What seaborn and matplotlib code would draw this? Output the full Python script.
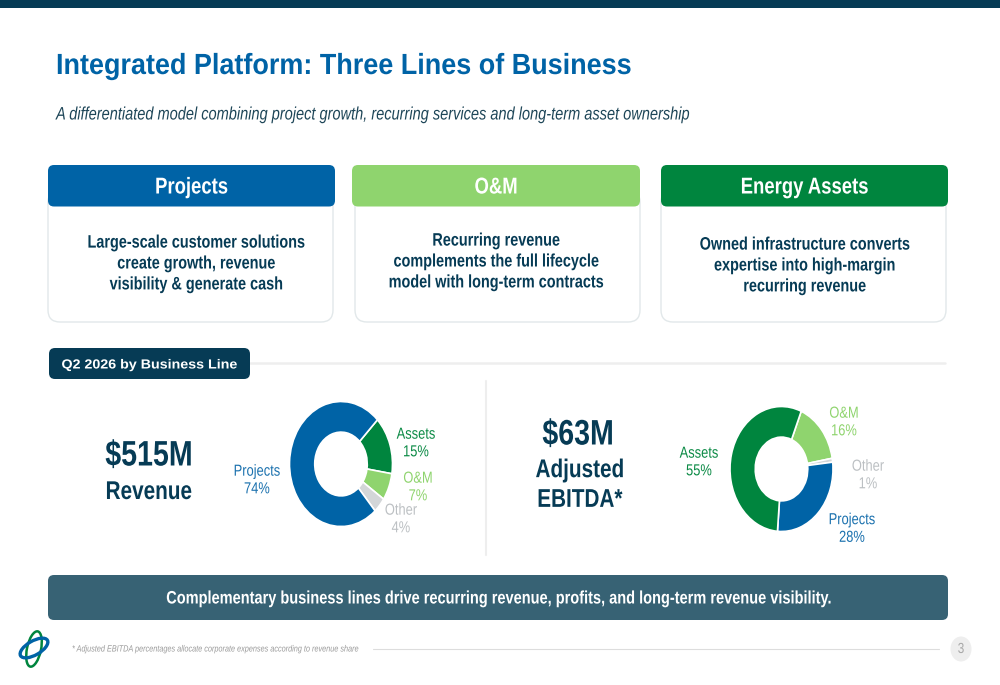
import matplotlib
matplotlib.use("Agg")
import matplotlib.pyplot as plt
import matplotlib.patheffects as pe
from matplotlib.patches import FancyBboxPatch, Rectangle, Ellipse
from matplotlib.transforms import Affine2D
import seaborn as sns

sns.set_theme(style="white")
REG = ["Liberation Sans", "DejaVu Sans"]
plt.rcParams["font.family"] = REG

# ---- data ----
segments = ["Projects", "Assets", "O&M", "Other"]
revenue_share = [74, 15, 7, 4]
ebitda_share = [28, 55, 16, 1]
title = "Integrated Platform: Three Lines of Business"
subtitle = "A differentiated model combining project growth, recurring services and long-term asset ownership"
card_titles = ["Projects", "O&M", "Energy Assets"]
card_texts = [
    "Large-scale customer solutions\ncreate growth, revenue\nvisibility & generate cash",
    "Recurring revenue\ncomplements the full lifecycle\nmodel with long-term contracts",
    "Owned infrastructure converts\nexpertise into high-margin\nrecurring revenue",
]
banner = "Complementary business lines drive recurring revenue, profits, and long-term revenue visibility."
footnote = "* Adjusted EBITDA percentages allocate corporate expenses according to revenue share"

# ---- styles ----
BLUE, GREEN, LIME, GREY = "#0063A6", "#00853E", "#8FD46E", "#D3D6D8"
palette = dict(zip(segments, sns.color_palette([BLUE, GREEN, LIME, GREY])))
label_colors = {"Projects": "#1B71AE", "Assets": "#0B8A45", "O&M": "#8FD46E", "Other": "#BCC0C3"}
NAVY = "#063B55"
SQ = 0.807

fig = plt.figure(figsize=(10, 6.85), dpi=100, facecolor="white")
bg = fig.add_axes([0, 0, 1, 1])
bg.set_xlim(0, 1000)
bg.set_ylim(685, 0)
bg.axis("off")


class SqueezeX(pe.AbstractPathEffect):
    """Narrows a text horizontally about its anchor (the reference type is condensed)."""

    def __init__(self, sx, anchor):
        super().__init__()
        self.sx, self.anchor = sx, anchor

    def draw_path(self, renderer, gc, tpath, affine, rgbFace=None):
        t = affine + Affine2D().translate(-self.anchor, 0).scale(self.sx, 1).translate(self.anchor, 0)
        renderer.draw_path(gc, tpath, t, rgbFace)


def txt(x, y, s, size, color, weight="normal", ha="center", style="normal", sx=SQ, ls=1.2):
    t = bg.text(x, y, s, fontsize=size, color=color, fontweight=weight, ha=ha, va="center",
                fontstyle=style, family=REG, linespacing=ls, zorder=5)
    t.set_path_effects([SqueezeX(sx, x)])


def rbox(x0, y0, x1, y1, r, fc, ec="none", lw=0, z=2):
    bg.add_patch(FancyBboxPatch((x0 + r, y0 + r), x1 - x0 - 2 * r, y1 - y0 - 2 * r,
                                boxstyle=f"round,pad={r},rounding_size={r}",
                                fc=fc, ec=ec, lw=lw, zorder=z))


bg.add_patch(Rectangle((0, 0), 1000, 8, fc=NAVY, ec="none"))
txt(56, 66, title, 21, "#0063A6", "bold", "left", sx=0.925)
txt(56, 115, subtitle, 13, "#1E4658", "normal", "left", "italic")

bodies = [(48, 333), (355, 640), (661, 946)]
heads = [(48, 335), (352, 640), (661, 948)]
head_colors = [BLUE, LIME, GREEN]
text_x = [196, 496, 804.5]
text_y = [264, 262, 266]
for (bx0, bx1), (hx0, hx1), col, t, b, tx, ty in zip(bodies, heads, head_colors, card_titles, card_texts, text_x, text_y):
    rbox(bx0, 190, bx1, 322, 12, "white", "#E2E8EA", 1.0, 1)
    rbox(hx0, 165, hx1, 206.5, 6, col, z=2)
    txt((hx0 + hx1) / 2, 187, t, 16.5, "white", "bold")
    txt(tx, ty, b, 13, NAVY, "bold", ls=1.3, sx=0.8)

bg.plot([250, 945], [363, 363], color="#EEEEEE", lw=1.8, zorder=1)
rbox(49, 348, 250, 379, 6, NAVY, z=2)
txt(149.5, 365.5, "Q2 2026 by Business Line", 9.5, "white", "bold", sx=1.08)
bg.plot([485.5, 485.5], [381, 555], color="#EEEEEE", lw=1.5, zorder=1)

txt(149, 456, "$515M", 25.5, NAVY, "bold")
txt(149, 492, "Revenue", 18.5, NAVY, "bold")
txt(578, 435, "$63M", 25.5, NAVY, "bold")
txt(580, 485, "Adjusted\nEBITDA*", 18.5, NAVY, "bold", ls=1.3)


def donut(cx, cy, values, start, order):
    rx, ry = 51.5, 62.5
    ax = fig.add_axes([(cx - rx) / 1000, 1 - (cy + ry) / 685, 2 * rx / 1000, 2 * ry / 685])
    vals = [values[segments.index(s)] for s in order]
    ax.pie(vals, colors=[palette[s] for s in order], startangle=start, counterclock=False,
           radius=1, wedgeprops=dict(width=0.49, edgecolor="white", linewidth=1.2))
    ax.set_aspect("auto")
    ax.set_xlim(-1, 1)
    ax.set_ylim(-1, 1)
    ax.patch.set_alpha(0)


donut(341, 464, revenue_share, 45, ["Assets", "O&M", "Other", "Projects"])
donut(781.5, 469, ebitda_share, 67.5, ["O&M", "Other", "Projects", "Assets"])


def seg_label(x, y, seg, share):
    txt(x, y, f"{seg}\n{share[segments.index(seg)]}%", 11.5, label_colors[seg], ls=1.22)


for x, y, seg in [(257, 480, "Projects"), (416, 443, "Assets"), (418, 487, "O&M"), (401, 519, "Other")]:
    seg_label(x, y, seg, revenue_share)
for x, y, seg in [(699, 462, "Assets"), (844, 422, "O&M"), (868, 475, "Other"), (852, 528.5, "Projects")]:
    seg_label(x, y, seg, ebitda_share)

rbox(48, 575, 948, 620, 6, "#376274", z=2)
txt(498, 599, banner, 13, "white", "bold")

# logo
bg.add_patch(Ellipse((34, 649), 14, 36, angle=12, fc="none", ec=GREEN, lw=1.8, zorder=3))
bg.add_patch(Ellipse((34, 648), 31, 14, angle=-30, fc="none", ec=BLUE, lw=2.4, zorder=3))

txt(72, 649, footnote, 6.5, "#9A9A9A", "normal", "left", "italic")
bg.plot([373, 939], [649, 649], color="#DDDDDD", lw=0.8, zorder=1)
bg.add_patch(Ellipse((961, 649), 21, 25, fc="#EEEEEE", ec="none", zorder=2))
txt(961, 649, "3", 10.5, "#A8A8A8")

fig.savefig("out.png", dpi=100)
